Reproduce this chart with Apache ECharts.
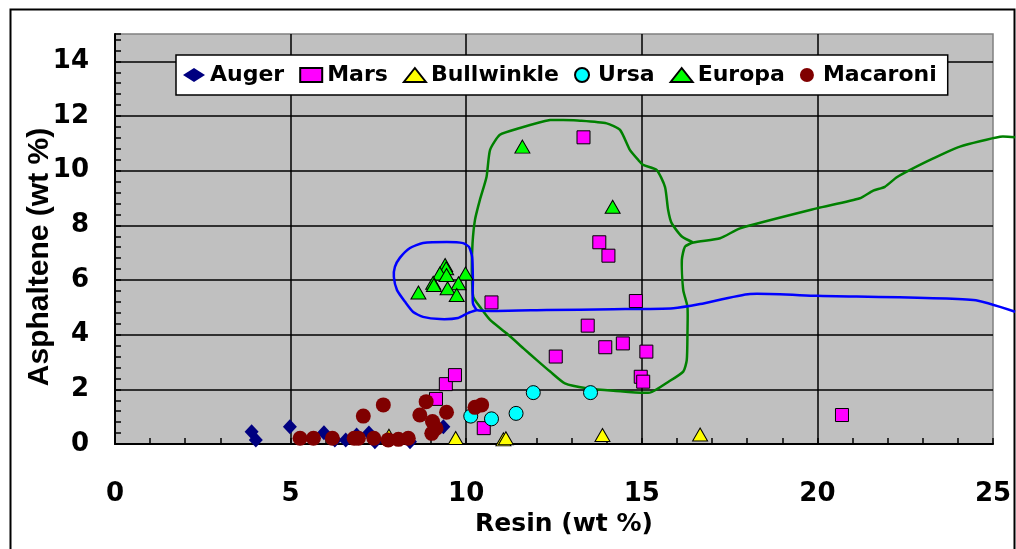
<!DOCTYPE html>
<html>
<head>
<meta charset="utf-8">
<script src="https://cdn.jsdelivr.net/npm/echarts@6/dist/echarts.min.js"></script>
<style>
html,body{margin:0;padding:0;background:#fff;}
#chart{width:1016px;height:549px;}
</style>
</head>
<body>
<div id="chart"></div>
<script>
// ---- data ----
var augerX = [3.89, 4.01, 4.98, 5.95, 6.26, 6.57, 6.88, 7.23, 7.4, 8.4, 9.35];
var augerY = [0.45, 0.15, 0.63, 0.41, 0.15, 0.15, 0.33, 0.4, 0.08, 0.08, 0.63];

var marsX = [9.14, 9.42, 9.68, 10.5, 13.34, 13.79, 14.05, 10.72, 14.83, 13.46, 12.55, 13.96, 14.46, 15.13, 14.97, 15.04, 20.7];
var marsY = [1.65, 2.19, 2.52, 0.58, 11.22, 7.38, 6.89, 5.18, 5.23, 4.33, 3.2, 3.54, 3.68, 3.38, 2.46, 2.28, 1.06];

var bullX = [7.8, 9.7, 11.06, 11.13, 13.88, 16.66];
var bullY = [0.3, 0.22, 0.17, 0.21, 0.33, 0.35];

var ursaX = [10.13, 10.72, 11.42, 11.91, 13.54];
var ursaY = [1.02, 0.92, 1.12, 1.88, 1.88];

var europaX = [11.6, 14.17, 9.4, 9.43, 9.25, 9.44, 9.98, 9.06, 9.08, 9.78, 9.47, 9.73, 8.64];
var europaY = [10.88, 8.68, 6.55, 6.43, 6.24, 6.18, 6.24, 5.9, 5.82, 5.88, 5.7, 5.45, 5.54];

var macX = [5.27, 5.65, 6.19, 6.81, 6.93, 7.07, 7.37, 7.64, 7.78, 8.07, 8.35, 8.68, 8.86, 9.04, 9.02, 9.14, 9.44, 10.25, 10.44];
var macY = [0.21, 0.21, 0.21, 0.21, 0.21, 1.02, 0.21, 1.43, 0.15, 0.17, 0.21, 1.06, 1.55, 0.82, 0.39, 0.57, 1.16, 1.34, 1.43];

// hand-drawn boundary outlines
var greenX = [25.63, 25.2, 24.06, 23.3, 22.64, 22.26, 21.92, 21.59, 21.21, 19.98, 17.8, 17.23, 16.47,
  16.23, 16.14, 16.18, 16.3, 16.3, 16.28, 16.18, 15.75, 15.23,
  14.19, 13.43, 12.81, 12.39, 12.01, 11.63, 11.15, 10.68, 10.39, 10.2,
  10.16, 10.18, 10.25, 10.39, 10.58, 10.68, 10.96, 11.53, 12.39, 12.76, 13.24, 14.0, 14.38,
  14.66, 14.9, 15.04, 15.42, 15.66, 15.75, 15.85, 16.14, 16.47];
var greenY = [11.22, 11.24, 10.88, 10.45, 10.03, 9.76, 9.41, 9.27, 8.99, 8.62, 7.89, 7.53, 7.37,
  7.22, 6.73, 5.63, 5.02, 4.05, 3.07, 2.65, 2.27, 1.88,
  1.95, 2.04, 2.22, 2.65, 3.07, 3.5, 4.05, 4.54, 5.02, 5.39,
  6.37, 7.34, 8.2, 8.93, 9.78, 10.76, 11.31, 11.56, 11.85, 11.85, 11.83, 11.73, 11.49,
  10.76, 10.39, 10.21, 10.03, 9.41, 8.56, 8.08, 7.59, 7.37];

var blueX = [25.63, 24.44, 19.98, 18.08, 16.66, 15.9, 14.19, 12.29, 10.87, 10.31,
  10.19, 10.19, 10.17, 10.08, 9.91, 9.45, 8.77, 8.4, 8.11, 7.97, 7.94, 8.03, 8.26, 8.49, 8.77,
  9.25, 9.77, 10.05, 10.31];
var blueY = [4.84, 5.27, 5.42, 5.49, 5.12, 4.97, 4.93, 4.9, 4.87, 4.9,
  5.16, 6.0, 6.84, 7.21, 7.35, 7.39, 7.35, 7.17, 6.81, 6.48, 6.11, 5.63, 5.2, 4.83, 4.65,
  4.57, 4.61, 4.79, 4.9];

var xTicks = [0, 5, 10, 15, 20, 25];
var yTicks = [0, 2, 4, 6, 8, 10, 12, 14];

function pairs(xs, ys) { return xs.map(function (x, i) { return [x, ys[i]]; }); }

var labelFont = { fontFamily: 'DejaVu Sans', fontWeight: 'bold', color: '#000' };

var chart = echarts.init(document.getElementById('chart'), null, { renderer: 'canvas' });

function scatter(name, xs, ys, symbol, size, color, border) {
  return {
    name: name, type: 'scatter', data: pairs(xs, ys), symbol: symbol, symbolSize: size,
    itemStyle: { color: color, borderColor: border ? '#000' : color, borderWidth: border ? 1 : 0, opacity: 1 },
    emphasis: { disabled: true }, z: 3
  };
}

// outline drawn through the axes' own scales; not clipped so it may run past x = 25
function outline(name, xs, ys, color) {
  return {
    name: name, type: 'custom', data: pairs(xs, ys), clip: false, silent: true, z: 2,
    encode: { x: 0, y: 1 },
    renderItem: function (params, api) {
      if (params.dataIndex !== 0) return null;
      var pts = xs.map(function (x, i) { return api.coord([x, ys[i]]); });
      return {
        type: 'polyline',
        shape: { points: pts, smooth: 0.2 },
        style: { stroke: color, lineWidth: 2.5, fill: null }
      };
    }
  };
}

chart.setOption({
  animation: false,
  backgroundColor: '#fff',
  graphic: [{
    type: 'rect', left: 8, top: 7, z: -1, silent: true,
    shape: { width: 1004, height: 600 },
    style: { fill: null, stroke: '#000', lineWidth: 2 }
  }],
  grid: {
    left: 115, top: 34, width: 878, height: 410, show: true,
    backgroundColor: '#C0C0C0', borderColor: '#808080', borderWidth: 1.5
  },
  legend: {
    data: ['Auger', 'Mars', 'Bullwinkle', 'Ursa', 'Europa', 'Macaroni'],
    left: 176, top: 55, orient: 'horizontal',
    backgroundColor: '#fff', borderColor: '#000', borderWidth: 1.5,
    padding: [9, 11, 9, 7], itemGap: 15, itemWidth: 22, itemHeight: 14,
    textStyle: { fontFamily: 'DejaVu Sans', fontWeight: 'bold', fontSize: 22, color: '#000' },
    selectedMode: false
  },
  xAxis: {
    type: 'value', min: xTicks[0], max: xTicks[xTicks.length - 1], interval: 5,
    name: 'Resin (wt %)', nameLocation: 'middle', nameGap: 68, nameMoveOverlap: false,
    nameTextStyle: Object.assign({ fontSize: 25, padding: [0, 0, 0, 20] }, labelFont),
    axisLine: { show: true, onZero: false, lineStyle: { color: '#000', width: 2 } },
    axisTick: { show: true, inside: true, length: 6, lineStyle: { color: '#000', width: 1.5 } },
    minorTick: { show: true, splitNumber: 5, length: 6, lineStyle: { color: '#000', width: 1.5 } },
    splitLine: { show: true, showMinLine: false, showMaxLine: false, lineStyle: { color: '#000', width: 1.5 } },
    axisLabel: Object.assign({ fontSize: 26, margin: 37 }, labelFont)
  },
  yAxis: {
    type: 'value', min: 0, max: 15, interval: 2,
    name: 'Asphaltene (wt %)', nameLocation: 'middle', nameGap: 60, nameRotate: 90, nameMoveOverlap: false,
    nameTextStyle: { fontFamily: 'Liberation Sans', fontWeight: 'bold', fontSize: 30, color: '#000', padding: [0, 36, 0, 0] },
    axisLine: { show: true, onZero: false, lineStyle: { color: '#000', width: 2 } },
    axisTick: { show: true, inside: true, length: 6, lineStyle: { color: '#000', width: 1.5 } },
    minorTick: { show: true, splitNumber: 5, length: 6, lineStyle: { color: '#000', width: 1.5 } },
    splitLine: { show: true, showMinLine: false, showMaxLine: false, lineStyle: { color: '#000', width: 1.5 } },
    axisLabel: Object.assign({
      fontSize: 26, margin: 26,
      formatter: function (v) { return yTicks.indexOf(v) >= 0 ? String(v) : ''; }
    }, labelFont)
  },
  series: [
    outline('Green boundary', greenX, greenY, '#008000'),
    outline('Blue boundary', blueX, blueY, '#0000FF'),
    scatter('Auger', augerX, augerY, 'diamond', [14, 15], '#000080', false),
    scatter('Mars', marsX, marsY, 'rect', 13, '#FF00FF', true),
    scatter('Bullwinkle', bullX, bullY, 'triangle', [15, 13], '#FFFF00', true),
    scatter('Ursa', ursaX, ursaY, 'circle', 14, '#00FFFF', true),
    scatter('Europa', europaX, europaY, 'triangle', [15, 13], '#00FF00', true),
    scatter('Macaroni', macX, macY, 'circle', 15, '#800000', false)
  ]
});
</script>
</body>
</html>
